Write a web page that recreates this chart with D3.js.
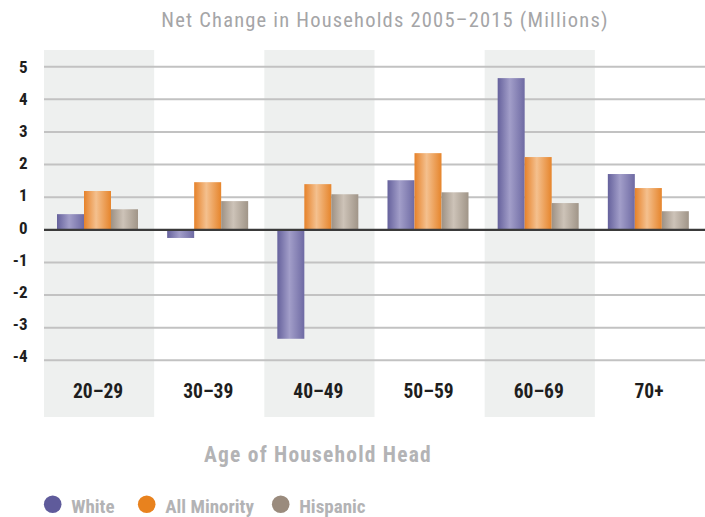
<!DOCTYPE html>
<html>
<head>
<meta charset="utf-8">
<script src="https://cdn.jsdelivr.net/npm/d3@7"></script>
<style>
  body { margin: 0; background: #fff; }
  svg text { font-family: "Liberation Sans Narrow", "Roboto Condensed", "DejaVu Sans Condensed", sans-serif; }
</style>
</head>
<body>
<div id="chart"></div>
<script>
const categories = ["20–29", "30–39", "40–49", "50–59", "60–69", "70+"];
const series = ["White", "All Minority", "Hispanic"];
const white = [0.48, -0.25, -3.34, 1.52, 4.65, 1.71];
const allMinority = [1.19, 1.46, 1.40, 2.35, 2.23, 1.28];
const hispanic = [0.63, 0.88, 1.09, 1.15, 0.82, 0.57];
const yTicks = [5, 4, 3, 2, 1, 0, -1, -2, -3, -4];

const values = [white, allMinority, hispanic];
const legendColors = ["#5f5b9b", "#e8821e", "#9a8b7d"];
const gradStops = [
  ["#65619c", "#a29ec9", "#6e6aa3"],
  ["#e6822a", "#f4c08e", "#e6852c"],
  ["#9d9184", "#cdc3b8", "#a09588"]
];

const W = 705, H = 517;
const margin = {left: 44, right: 0, top: 50, bottom: 100};

const svg = d3.select("#chart").append("svg")
  .attr("width", W)
  .attr("height", H);

const defs = svg.append("defs");
series.forEach((s, i) => {
  const g = defs.append("linearGradient")
    .attr("id", "grad" + i)
    .attr("x1", "0%").attr("x2", "100%")
    .attr("y1", "0%").attr("y2", "0%");
  g.append("stop").attr("offset", "0%").attr("stop-color", gradStops[i][0]);
  g.append("stop").attr("offset", "45%").attr("stop-color", gradStops[i][1]);
  g.append("stop").attr("offset", "100%").attr("stop-color", gradStops[i][2]);
});

const x = d3.scaleBand()
  .domain(categories)
  .range([margin.left, W - margin.right]);

const x1 = d3.scaleBand()
  .domain(series)
  .range([13, 94]);

const y = d3.scaleLinear()
  .domain([-4, 5])
  .range([360.3, 66.7]);

// tick labels sit on a slightly tighter spacing than the gridlines
const yLabel = d3.scaleLinear()
  .domain([-4, 5])
  .range([361.7, 73.3]);

// alternating background bands
svg.append("g")
  .selectAll("rect")
  .data(categories.filter((c, i) => i % 2 === 0))
  .join("rect")
    .attr("x", d => x(d))
    .attr("y", margin.top)
    .attr("width", x.bandwidth())
    .attr("height", 417 - margin.top)
    .attr("fill", "#eef0ef");

// gridlines
svg.append("g")
  .selectAll("line")
  .data(yTicks.filter(t => t !== 0))
  .join("line")
    .attr("x1", margin.left)
    .attr("x2", W)
    .attr("y1", d => y(d))
    .attr("y2", d => y(d))
    .attr("stroke", "#c2c2c2")
    .attr("stroke-width", 2);

// bars
const groups = svg.append("g")
  .selectAll("g")
  .data(categories)
  .join("g")
    .attr("transform", d => `translate(${x(d)},0)`);

groups.selectAll("rect")
  .data((d, ci) => series.map((s, si) => ({s, si, v: values[si][ci]})))
  .join("rect")
    .attr("x", d => x1(d.s))
    .attr("width", x1.bandwidth())
    .attr("y", d => y(Math.max(0, d.v)))
    .attr("height", d => Math.abs(y(d.v) - y(0)))
    .attr("fill", d => `url(#grad${d.si})`);

// zero line
svg.append("line")
  .attr("x1", margin.left)
  .attr("x2", W)
  .attr("y1", y(0))
  .attr("y2", y(0))
  .attr("stroke", "#3a3a3a")
  .attr("stroke-width", 2.2);

// y axis labels
svg.append("g")
  .selectAll("text")
  .data(yTicks)
  .join("text")
    .attr("x", 27.5)
    .attr("y", d => yLabel(d))
    .attr("text-anchor", "end")
    .attr("font-size", 17)
    .attr("font-weight", "bold")
    .attr("fill", "#1e1e1e")
    .text(d => d);

// x labels
svg.append("g")
  .selectAll("text")
  .data(categories)
  .join("text")
    .attr("x", d => x(d) + x.bandwidth() / 2 - 1)
    .attr("y", 398.3)
    .attr("text-anchor", "middle")
    .attr("font-size", 19.5)
    .attr("font-weight", "bold")
    .attr("fill", "#1e1e1e")
    .text(d => d);

// title
svg.append("text")
  .attr("x", 385)
  .attr("y", 27)
  .attr("text-anchor", "middle")
  .attr("font-size", 20.5)
  .attr("letter-spacing", 1.2)
  .attr("fill", "#a5a5a7")
  .text("Net Change in Households 2005–2015 (Millions)");

// x axis title
svg.append("text")
  .attr("x", 318)
  .attr("y", 461.7)
  .attr("text-anchor", "middle")
  .attr("font-size", 21.5)
  .attr("font-weight", "bold")
  .attr("letter-spacing", 1.2)
  .attr("fill", "#b3b3b5")
  .text("Age of Household Head");

// legend
const legendX = [52.7, 146.7, 280.7];
const legend = svg.append("g")
  .selectAll("g")
  .data(series)
  .join("g")
    .attr("transform", (d, i) => `translate(${legendX[i]},504.3)`);

legend.append("circle")
  .attr("r", 8.8)
  .attr("fill", (d, i) => legendColors[i]);

legend.append("text")
  .attr("x", 18.5)
  .attr("y", 8.4)
  .attr("font-size", 19)
  .attr("font-weight", "bold")
  .attr("fill", "#b3b3b5")
  .text(d => d);
</script>
</body>
</html>
